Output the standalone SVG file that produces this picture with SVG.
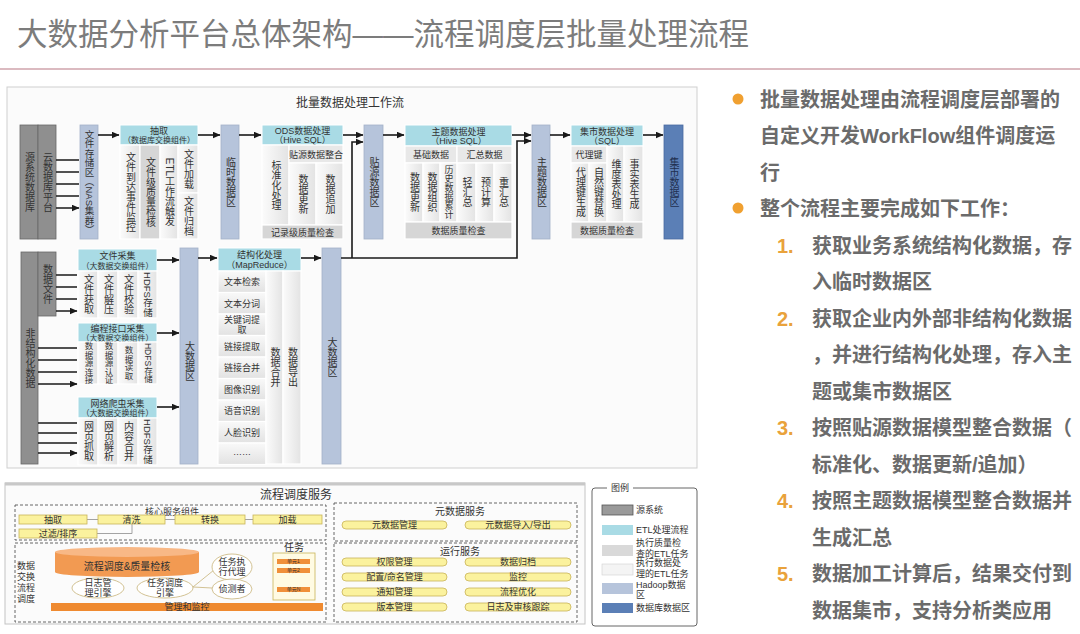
<svg xmlns="http://www.w3.org/2000/svg" width="1080" height="634" viewBox="0 0 1080 634">
<defs>
<marker id="ar" markerUnits="userSpaceOnUse" markerWidth="8" markerHeight="7" refX="7.5" refY="3.5" orient="auto"><path d="M0,0 L8,3.5 L0,7 z" fill="#1a1a1a"/></marker>
<linearGradient id="gc" x1="0" y1="0" x2="1" y2="0"><stop offset="0" stop-color="#fbfbfb"/><stop offset="1" stop-color="#e3e3e3"/></linearGradient>
<linearGradient id="gi" x1="0" y1="0" x2="0" y2="1"><stop offset="0" stop-color="#f9f9f9"/><stop offset="1" stop-color="#e2e2e2"/></linearGradient>
<style>
text{font-family:"Liberation Sans","Noto Sans CJK SC",sans-serif;fill:#333}
.v{writing-mode:vertical-rl;text-anchor:middle;font-size:10px}
.c{text-anchor:middle}
.s9{font-size:9px}.s8{font-size:8px}.s85{font-size:8.5px}.s10{font-size:10px}
.src{fill:#8f8f8f;stroke:#686868;stroke-width:0.8}
.etl{fill:#a9dbe5;stroke:#ffffff;stroke-width:1}
.hd{fill:#b6c4db;stroke:#a3b1c9;stroke-width:0.8}
.db{fill:#5b7fb6;stroke:#4a6aa0;stroke-width:0.8}
.cell{fill:url(#gc);stroke:#ffffff;stroke-width:1.2}
.item{fill:url(#gi);stroke:#ffffff;stroke-width:1.2}
.qc{fill:#d6d6d6;stroke:#ffffff;stroke-width:1.2}
.sub{fill:#e8e8e8;stroke:#ffffff;stroke-width:1.2}
.ln{stroke:#1a1a1a;stroke-width:1.6;fill:none}
.dash{fill:none;stroke:#555;stroke-width:0.9;stroke-dasharray:3,2}
.yb{fill:#fbf29e;stroke:#c9b458;stroke-width:0.8}
.rt{font-size:20px;font-weight:bold;fill:#6b6b6b}
.num{font-size:20px;font-weight:bold;fill:#e9a23b}
</style>
</defs>
<rect width="1080" height="634" fill="#ffffff"/>
<text x="17" y="45" style="font-size:30.5px;fill:#7c7c7c">大数据分析平台总体架构——流程调度层批量处理流程</text>
<line x1="0" y1="69" x2="1080" y2="69" stroke="#cfa3ab" stroke-width="1.5"/>

<g id="panel-batch">
<rect x="7" y="87" width="690" height="381" fill="#fbfbfb" stroke="#cfcfcf"/>
<text x="350" y="107" class="c" style="font-size:12px">批量数据处理工作流</text>
</g>

<g id="src-db"><rect x="20" y="125" width="18" height="114" class="src"/><text x="29" y="182" class="v">源系统数据库</text></g>
<g id="cloud-platform"><rect x="38" y="125" width="18" height="114" class="src"/><text x="47" y="182" class="v">云数据库平台</text></g>
<g id="nas"><rect x="80" y="125" width="18" height="114" class="hd"/><text x="89" y="182" class="v" style="font-size:9.5px">文件存储区（NAS集群）</text></g>

<g id="extract">
<rect x="120" y="125" width="78" height="20" class="etl"/>
<text x="159" y="134" class="c s9">抽取</text><text x="159" y="143" class="c s8">（数据库交换组件）</text>
<rect x="120" y="145" width="20" height="94" class="cell"/><text x="130" y="192" class="v">文件到达事件监控</text>
<rect x="140" y="145" width="20" height="94" class="qc"/><text x="150" y="192" class="v">文件级质量检核</text>
<rect x="160" y="145" width="18" height="94" class="cell"/><text x="169" y="192" class="v">ETL工作流触发</text>
<rect x="178" y="145" width="20" height="48" class="cell"/><text x="188" y="169" class="v">文件加载</text>
<rect x="178" y="193" width="20" height="46" class="cell"/><text x="188" y="216" class="v">文件归档</text>
</g>

<g id="temp-zone"><rect x="221" y="125" width="18" height="114" class="hd"/><text x="230" y="182" class="v">临时数据区</text></g>

<g id="ods">
<rect x="262" y="125" width="81" height="20" class="etl"/>
<text x="302.5" y="134" class="c s9">ODS数据处理</text><text x="302.5" y="143" class="c s9">（Hive SQL）</text>
<rect x="262" y="145" width="27" height="80" class="cell"/><text x="275.5" y="185" class="v">标准化处理</text>
<rect x="289" y="145" width="54" height="18" class="sub"/><text x="316" y="157.5" class="c s9">贴源数据整合</text>
<rect x="289" y="163" width="27" height="62" class="cell"/><text x="302.5" y="194" class="v">数据更新</text>
<rect x="316" y="163" width="27" height="62" class="cell"/><text x="329.5" y="194" class="v">数据追加</text>
<rect x="262" y="225" width="81" height="14" class="qc"/><text x="302.5" y="235.5" class="c s9">记录级质量检查</text>
</g>

<g id="tieyuan-zone"><rect x="364" y="125" width="19" height="114" class="hd"/><text x="373.5" y="182" class="v">贴源数据区</text></g>

<g id="subject">
<rect x="405" y="125" width="107" height="21" class="etl"/>
<text x="458.5" y="134.5" class="c s9">主题数据处理</text><text x="458.5" y="143.5" class="c s9">（Hive SQL）</text>
<rect x="405" y="146" width="52" height="17" class="sub"/><text x="431" y="158" class="c s9">基础数据</text>
<rect x="457" y="146" width="55" height="17" class="sub"/><text x="484.5" y="158" class="c s9">汇总数据</text>
<rect x="405" y="163" width="18" height="59" class="cell"/><text x="414" y="192.5" class="v">数据更新</text>
<rect x="423" y="163" width="17" height="59" class="cell"/><text x="431.5" y="192.5" class="v">数据组织</text>
<rect x="440" y="163" width="17" height="59" class="cell"/><text x="448.5" y="192.5" class="v" style="font-size:9px">历史数据累计</text>
<rect x="457" y="163" width="19" height="59" class="cell"/><text x="466.5" y="192.5" class="v">轻汇总</text>
<rect x="476" y="163" width="18" height="59" class="cell"/><text x="485" y="192.5" class="v">预计算</text>
<rect x="494" y="163" width="18" height="59" class="cell"/><text x="503" y="192.5" class="v">重汇总</text>
<rect x="405" y="222" width="107" height="17" class="qc"/><text x="458.5" y="234" class="c s9">数据质量检查</text>
</g>

<g id="subject-zone"><rect x="532" y="125" width="18" height="114" class="hd"/><text x="541" y="182" class="v">主题数据区</text></g>

<g id="mart">
<rect x="571" y="125" width="72" height="21" class="etl"/>
<text x="607" y="134.5" class="c s9">集市数据处理</text><text x="607" y="143.5" class="c s9">（SQL）</text>
<rect x="571" y="146" width="36" height="17" class="sub"/><text x="589" y="158" class="c s9">代理键</text>
<rect x="571" y="163" width="18" height="59" class="cell"/><text x="580" y="192.5" class="v">代理键生成</text>
<rect x="589" y="163" width="18" height="59" class="cell"/><text x="598" y="192.5" class="v">自然键替换</text>
<rect x="607" y="146" width="17" height="76" class="cell"/><text x="615.5" y="184" class="v">维度表处理</text>
<rect x="624" y="146" width="19" height="76" class="cell"/><text x="633.5" y="184" class="v">事实表生成</text>
<rect x="571" y="222" width="72" height="17" class="qc"/><text x="607" y="234" class="c s9">数据质量检查</text>
</g>

<g id="mart-zone"><rect x="664" y="125" width="19" height="114" class="db"/><text x="673.5" y="182" class="v" style="fill:#1f2f4f">集市数据区</text></g>

<g id="unstructured"><rect x="21" y="252" width="17" height="212" class="src"/><text x="29.5" y="358" class="v">非结构化数据</text></g>
<g id="data-file"><rect x="38" y="252" width="18" height="64" class="src"/><text x="47" y="284" class="v">数据文件</text></g>

<g id="file-collect">
<rect x="78" y="249" width="79" height="22" class="etl"/>
<text x="117.5" y="259" class="c s9">文件采集</text><text x="117.5" y="268.5" class="c s8">（大数据交换组件）</text>
<rect x="78" y="271" width="20" height="47" class="cell"/><text x="88" y="294.5" class="v">文件获取</text>
<rect x="98" y="271" width="20" height="47" class="cell"/><text x="108" y="294.5" class="v">文件解压</text>
<rect x="118" y="271" width="20" height="47" class="cell"/><text x="128" y="294.5" class="v">文件校验</text>
<rect x="138" y="271" width="19" height="47" class="cell"/><text x="147.5" y="294.5" class="v" style="font-size:9.5px">HDFS存储</text>
</g>

<g id="api-collect">
<rect x="78" y="323" width="79" height="19" class="etl"/>
<text x="117.5" y="332" class="c s9">编程接口采集</text><text x="117.5" y="340.5" class="c s8">（大数据交换组件）</text>
<rect x="78" y="342" width="20" height="42" class="cell"/><text x="88" y="363" class="v s85">数据源连接</text>
<rect x="98" y="342" width="20" height="42" class="cell"/><text x="108" y="363" class="v s85">数据源认证</text>
<rect x="118" y="342" width="20" height="42" class="cell"/><text x="128" y="363" class="v s85">数据读取</text>
<rect x="138" y="342" width="19" height="42" class="cell"/><text x="147.5" y="363" class="v s85">HDFS存储</text>
</g>

<g id="crawler-collect">
<rect x="78" y="397" width="79" height="21" class="etl"/>
<text x="117.5" y="406.5" class="c s9">网络爬虫采集</text><text x="117.5" y="415.5" class="c s8">（大数据交换组件）</text>
<rect x="78" y="418" width="20" height="47" class="cell"/><text x="88" y="441.5" class="v">网页抓取</text>
<rect x="98" y="418" width="20" height="47" class="cell"/><text x="108" y="441.5" class="v">网页解析</text>
<rect x="118" y="418" width="20" height="47" class="cell"/><text x="128" y="441.5" class="v">内容合并</text>
<rect x="138" y="418" width="19" height="47" class="cell"/><text x="147.5" y="441.5" class="v" style="font-size:9.5px">HDFS存储</text>
</g>

<g id="bigdata-zone-1"><rect x="180" y="248" width="18" height="216" class="hd"/><text x="189" y="361" class="v">大数据区</text></g>

<g id="structuring">
<rect x="218" y="248" width="83" height="23" class="etl"/>
<text x="259.5" y="258" class="c s9">结构化处理</text><text x="259.5" y="268" class="c s9">（MapReduce）</text>
<rect x="218" y="271" width="48" height="21.5" class="item"/><text x="242" y="285" class="c s9">文本检索</text>
<rect x="218" y="292.5" width="48" height="21.5" class="item"/><text x="242" y="306.5" class="c s9">文本分词</text>
<rect x="218" y="314" width="48" height="21.5" class="item"/><text x="242" y="323" class="c s9">关键词提</text><text x="242" y="333" class="c s9">取</text>
<rect x="218" y="335.5" width="48" height="21.5" class="item"/><text x="242" y="349.5" class="c s9">链接提取</text>
<rect x="218" y="357" width="48" height="21.5" class="item"/><text x="242" y="371" class="c s9">链接合并</text>
<rect x="218" y="378.5" width="48" height="21.5" class="item"/><text x="242" y="392.5" class="c s9">图像识别</text>
<rect x="218" y="400" width="48" height="21.5" class="item"/><text x="242" y="414" class="c s9">语音识别</text>
<rect x="218" y="421.5" width="48" height="21.5" class="item"/><text x="242" y="435.5" class="c s9">人脸识别</text>
<rect x="218" y="443" width="48" height="21.5" class="item"/><text x="242" y="455" class="c s9">……</text>
<rect x="266" y="271" width="17" height="193" class="cell"/><text x="274.5" y="367" class="v">数据合并</text>
<rect x="283" y="271" width="18" height="193" class="cell"/><text x="292" y="367" class="v">数据导出</text>
</g>

<g id="bigdata-zone-2"><rect x="322" y="248" width="19" height="216" class="hd"/><text x="331.5" y="357" class="v">大数据区</text></g>

<g id="connectors">
<path class="ln" marker-end="url(#ar)" d="M56 160H79M56 172H79M56 184H79M56 196H79M56 208H79"/>
<path class="ln" marker-end="url(#ar)" d="M98 135H119"/>
<path class="ln" marker-end="url(#ar)" d="M198 135H220"/>
<path class="ln" marker-end="url(#ar)" d="M239 135H261"/>
<path class="ln" marker-end="url(#ar)" d="M343 135H363"/>
<path class="ln" marker-end="url(#ar)" d="M383 135H404"/>
<path class="ln" marker-end="url(#ar)" d="M512 135H531"/>
<path class="ln" marker-end="url(#ar)" d="M550 135H570"/>
<path class="ln" marker-end="url(#ar)" d="M643 135H663"/>
<path class="ln" marker-end="url(#ar)" d="M341 258H517V141H531"/>
<path class="ln" marker-end="url(#ar)" d="M352 258V142H363"/>
<path class="ln" marker-end="url(#ar)" d="M56 275H77M56 287H77M56 299H77M56 311H77"/>
<path class="ln" marker-end="url(#ar)" d="M38 348H77M38 360H77M38 372H77M38 384H77"/>
<path class="ln" marker-end="url(#ar)" d="M38 423H77M38 433H77M38 443H77M38 453H77"/>
<path class="ln" marker-end="url(#ar)" d="M157 260H179"/>
<path class="ln" marker-end="url(#ar)" d="M157 333H179"/>
<path class="ln" marker-end="url(#ar)" d="M157 407H179"/>
<path class="ln" marker-end="url(#ar)" d="M198 258H217"/>
<path class="ln" marker-end="url(#ar)" d="M301 258H321"/>
</g>

<g id="panel-schedule">
<rect x="5" y="483" width="580" height="141" fill="#fbfbfb" stroke="#c4c4c4"/>
<line x1="5" y1="484" x2="585" y2="484" stroke="#c8c8c8" stroke-width="3"/>
<text x="296" y="499" class="c" style="font-size:12px">流程调度服务</text>
</g>

<g id="core-components">
<rect x="15" y="505" width="311" height="35" class="dash"/>
<text x="172" y="515" class="c s9">核心服务组件</text>
<path d="M87 519.5H98M165 519.5H175M245 519.5H253M132 524V533.5H97" stroke="#999" stroke-width="0.9" fill="none"/>
<rect x="19" y="515" width="68" height="9" class="yb"/><text x="53" y="522.5" class="c s9">抽取</text>
<rect x="98" y="515" width="67" height="9" class="yb"/><text x="131.5" y="522.5" class="c s9">清洗</text>
<rect x="175" y="515" width="70" height="9" class="yb"/><text x="210" y="522.5" class="c s9">转换</text>
<rect x="253" y="515" width="69" height="9" class="yb"/><text x="287.5" y="522.5" class="c s9">加载</text>
<rect x="19" y="529" width="78" height="9" class="yb"/><text x="58" y="536.5" class="c s9">过滤/排序</text>
</g>

<g id="exchange-scheduling">
<rect x="15" y="543" width="311" height="79" class="dash"/>
<text x="26" y="569" class="c s9">数据</text><text x="26" y="580" class="c s9">交换</text><text x="26" y="591" class="c s9">流程</text><text x="26" y="602" class="c s9">调度</text>
<path d="M55 552V572A72 5 0 0 0 199 572V552Z" fill="#f29a52"/>
<ellipse cx="127" cy="552" rx="72" ry="5" fill="#f8b886"/>
<text x="127" y="570" class="c s10">流程调度&amp;质量检核</text>
<path d="M193 587L214 570M193 587L212 588" stroke="#cdbb88" stroke-width="0.9" fill="none"/>
<ellipse cx="98" cy="588" rx="26" ry="10" fill="#fff" stroke="#cdbb88" stroke-width="0.9"/>
<text x="98" y="586" class="c s9">日志管</text><text x="98" y="596" class="c s9">理引擎</text>
<ellipse cx="165" cy="588" rx="28" ry="10" fill="#fff" stroke="#cdbb88" stroke-width="0.9"/>
<text x="165" y="586" class="c s9">任务调度</text><text x="165" y="596" class="c s9">引擎</text>
<ellipse cx="232" cy="567" rx="20" ry="13" fill="#fff" stroke="#cdbb88" stroke-width="0.9"/>
<text x="232" y="565" class="c s9">任务执</text><text x="232" y="575" class="c s9">行代理</text>
<ellipse cx="232" cy="589" rx="20" ry="10" fill="#fff" stroke="#cdbb88" stroke-width="0.9"/>
<text x="232" y="592" class="c s9">侦测者</text>
<rect x="51" y="603" width="272" height="8" fill="#ef8a30"/>
<text x="187" y="610" class="c s9">管理和监控</text>
</g>

<g id="tasks">
<rect x="273" y="553" width="42" height="47" fill="#fffbe3" stroke="#c9b458" stroke-width="0.8"/>
<text x="294" y="551" class="c s10">任务</text>
<rect x="277" y="559" width="33" height="5" fill="#f0903a"/><text x="293.5" y="563" class="c" style="font-size:5px">单元1</text>
<rect x="277" y="568" width="33" height="5" fill="#f0903a"/><text x="293.5" y="572" class="c" style="font-size:5px">单元2</text>
<rect x="277" y="587" width="33" height="5" fill="#f0903a"/><text x="293.5" y="591" class="c" style="font-size:5px">单元N</text>
</g>

<g id="metadata-service">
<rect x="334" y="503" width="243" height="38" class="dash"/>
<text x="460" y="515" class="c s10">元数据服务</text>
<rect x="342" y="521" width="105" height="8" rx="4" class="yb"/><text x="394.5" y="528" class="c s9">元数据管理</text>
<rect x="465" y="521" width="106" height="8" rx="4" class="yb"/><text x="518" y="528" class="c s9">元数据导入/导出</text>
</g>

<g id="ops-service">
<rect x="334" y="543" width="243" height="79" class="dash"/>
<text x="460" y="555" class="c s10">运行服务</text>
<rect x="342" y="558" width="105" height="8" rx="4" class="yb"/><text x="394.5" y="565" class="c s9">权限管理</text>
<rect x="465" y="558" width="106" height="8" rx="4" class="yb"/><text x="518" y="565" class="c s9">数据归档</text>
<rect x="342" y="573" width="105" height="8" rx="4" class="yb"/><text x="394.5" y="580" class="c s9">配置/命名管理</text>
<rect x="465" y="573" width="106" height="8" rx="4" class="yb"/><text x="518" y="580" class="c s9">监控</text>
<rect x="342" y="588" width="105" height="8" rx="4" class="yb"/><text x="394.5" y="595" class="c s9">通知管理</text>
<rect x="465" y="588" width="106" height="8" rx="4" class="yb"/><text x="518" y="595" class="c s9">流程优化</text>
<rect x="342" y="603" width="105" height="8" rx="4" class="yb"/><text x="394.5" y="610" class="c s9">版本管理</text>
<rect x="465" y="603" width="106" height="8" rx="4" class="yb"/><text x="518" y="610" class="c s9">日志及审核跟踪</text>
</g>

<g id="legend">
<rect x="592" y="488" width="105" height="138" rx="3" fill="#fff" stroke="#555" stroke-width="0.9"/>
<rect x="607" y="484" width="26" height="8" fill="#fff"/>
<text x="620" y="491" class="c s9">图例</text>
<rect x="602" y="505" width="31" height="10" fill="#9a9a9a" stroke="#555" stroke-width="0.8"/><text x="636" y="513" class="s9">源系统</text>
<rect x="602" y="525" width="31" height="10" fill="#a9dbe5"/><text x="636" y="533" class="s9">ETL处理流程</text>
<rect x="602" y="545" width="31" height="11" fill="#d9d9d9"/><text x="636" y="546" class="s9">执行质量检</text><text x="636" y="557" class="s9">查的ETL任务</text>
<rect x="602" y="564" width="31" height="11" fill="#f4f4f4" stroke="#d0d0d0" stroke-width="0.6"/><text x="636" y="566" class="s9">执行数据处</text><text x="636" y="577" class="s9">理的ETL任务</text>
<rect x="602" y="583" width="31" height="11" fill="#b6c4db"/><text x="636" y="588" class="s9">Hadoop数据</text><text x="636" y="598" class="s9">区</text>
<rect x="602" y="603" width="31" height="10" fill="#5b7fb6"/><text x="636" y="611" class="s9">数据库数据区</text>
</g>

<g id="notes">
<circle cx="738" cy="99" r="5.5" fill="#f0a030"/>
<text x="760" y="107" class="rt">批量数据处理由流程调度层部署的</text>
<text x="760" y="143" class="rt">自定义开发WorkFlow组件调度运</text>
<text x="760" y="180" class="rt">行</text>
<circle cx="738" cy="208" r="5.5" fill="#f0a030"/>
<text x="760" y="216" class="rt">整个流程主要完成如下工作：</text>
<text x="777" y="253" class="num">1.</text><text x="812" y="253" class="rt">获取业务系统结构化数据，存</text>
<text x="812" y="289" class="rt">入临时数据区</text>
<text x="777" y="326" class="num">2.</text><text x="812" y="326" class="rt">获取企业内外部非结构化数据</text>
<text x="812" y="362" class="rt">，并进行结构化处理，存入主</text>
<text x="812" y="399" class="rt">题或集市数据区</text>
<text x="777" y="435" class="num">3.</text><text x="812" y="435" class="rt">按照贴源数据模型整合数据（</text>
<text x="812" y="472" class="rt">标准化、数据更新/追加）</text>
<text x="777" y="508" class="num">4.</text><text x="812" y="508" class="rt">按照主题数据模型整合数据并</text>
<text x="812" y="545" class="rt">生成汇总</text>
<text x="777" y="581" class="num">5.</text><text x="812" y="581" class="rt">数据加工计算后，结果交付到</text>
<text x="812" y="618" class="rt">数据集市，支持分析类应用</text>
</g>
</svg>
